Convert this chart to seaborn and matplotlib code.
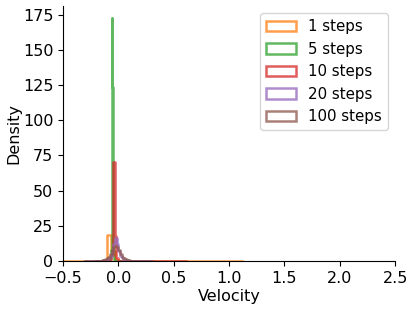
import matplotlib
matplotlib.use("Agg")
import matplotlib.pyplot as plt
from matplotlib.patches import Patch
from matplotlib.ticker import MultipleLocator
import seaborn as sns

# estimated histogram densities (bin centres + density) per number of steps
labels = ["1 steps", "5 steps", "10 steps", "20 steps", "100 steps"]
colors = ["C1", "C2", "C3", "C4", "C5"]

orange_range = (-0.539, 1.117)
orange_bins = 46
orange_x = [-0.521, -0.161, -0.125, -0.089, -0.053, -0.017, 0.019, 0.307, 0.739, 1.099]
orange_y = [0.05, 0.2, 0.5, 18.4, 7.0, 0.8, 0.2, 0.05, 0.05, 0.05]

green_range = (-0.2, 0.1)
green_bins = 50
green_x = [-0.077, -0.071, -0.065, -0.059, -0.053, -0.047, -0.041, -0.035]
green_y = [0.5, 2.0, 8.0, 172.5, 123.5, 8.0, 2.0, 0.5]

red_range = (-0.2, 0.61)
red_bins = 54
red_x = [-0.1775, -0.0725, -0.0575, -0.0425, -0.0275, -0.0125, 0.0475, 0.2575, 0.6025]
red_y = [0.05, 1.0, 4.0, 70.0, 18.0, 2.0, 0.2, 0.05, 0.05]

purple_range = (-0.3, 0.3)
purple_bins = 40
purple_x = [-0.2925, -0.1575, -0.1425, -0.1275, -0.1125, -0.0975, -0.0825, -0.0675, -0.0525,
            -0.0375, -0.0225, -0.0075, 0.0075, 0.0225, 0.0375, 0.0525, 0.0675, 0.0825,
            0.0975, 0.1125, 0.2925]
purple_y = [0.05, 0.2, 0.3, 0.5, 0.8, 1.2, 2.0, 3.5, 7.0, 12.0, 16.0, 12.0, 7.0, 3.5,
            2.0, 1.2, 0.8, 0.5, 0.3, 0.2, 0.05]

brown_range = (-0.3, 0.3)
brown_bins = 40
brown_x = [-0.2925, -0.1575, -0.1425, -0.1275, -0.1125, -0.0975, -0.0825, -0.0675, -0.0525,
           -0.0375, -0.0225, -0.0075, 0.0075, 0.0225, 0.0375, 0.0525, 0.0675, 0.0825,
           0.0975, 0.1125, 0.2925]
brown_y = [0.05, 0.3, 0.5, 0.8, 1.3, 2.0, 3.0, 5.0, 7.5, 10.0, 11.0, 10.0, 7.5, 5.0,
           3.0, 2.0, 1.3, 0.8, 0.5, 0.3, 0.05]

series = [
    (orange_x, orange_y, orange_range, orange_bins),
    (green_x, green_y, green_range, green_bins),
    (red_x, red_y, red_range, red_bins),
    (purple_x, purple_y, purple_range, purple_bins),
    (brown_x, brown_y, brown_range, brown_bins),
]

plt.rcParams["font.family"] = ["DejaVu Sans"]
plt.rcParams["font.size"] = 11.5

fig = plt.figure(figsize=(4.15, 3.1), dpi=100)
ax = fig.add_axes([0.152, 0.158, 0.8, 0.823])

for (xs, ys, rng, nb), c in zip(series, colors):
    sns.histplot(x=xs, weights=ys, bins=nb, binrange=rng, element="step", fill=False,
                 color=c, alpha=0.75, linewidth=1.8, ax=ax)

ax.set_xlim(-0.5, 2.5)
ax.yaxis.set_major_locator(MultipleLocator(25))
ax.set_xlabel("Velocity", labelpad=2)
ax.set_ylabel("Density", labelpad=1)
ax.tick_params(labelsize=11.5)
sns.despine(ax=ax)

handles = [Patch(facecolor="none", edgecolor=c, linewidth=1.8, alpha=0.75) for c in colors]
ax.legend(handles, labels, loc="upper right", fontsize=10.8)

fig.savefig("out.png", dpi=100)
